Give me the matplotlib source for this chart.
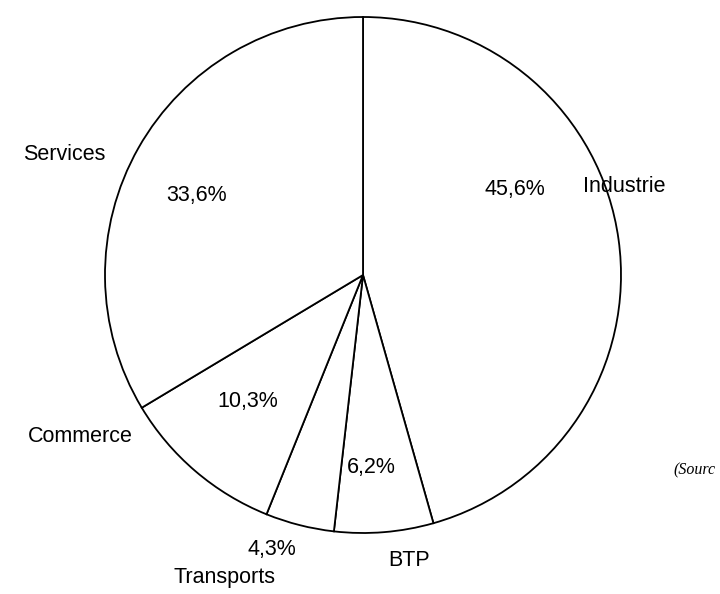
import matplotlib
matplotlib.use("Agg")
import matplotlib.pyplot as plt

categories = ["Industrie", "BTP", "Transports", "Commerce", "Services"]
values = [45.6, 6.2, 4.3, 10.3, 33.6]
pct_labels = ["45,6%", "6,2%", "4,3%", "10,3%", "33,6%"]

W, H = 720, 594
fig = plt.figure(figsize=(7.2, 5.94), dpi=100)
ax = fig.add_axes([0, 0, 1, 1])

ax.pie(values, startangle=90, counterclock=False, center=(363, H - 275), radius=258,
       wedgeprops=dict(facecolor="white", edgecolor="black", linewidth=1.3))
ax.set_xlim(0, W)
ax.set_ylim(0, H)
ax.set_aspect("equal")
ax.set_axis_off()

font = dict(family="Liberation Sans", fontsize=15.5, color="black")
cat_pos = {"Industrie": (583, 187, "left"), "BTP": (409, 560, "center"),
           "Transports": (224, 577, "center"), "Commerce": (80, 437, "center"),
           "Services": (64, 155, "center")}
pct_pos = [(515, 190), (371, 467), (272, 550), (248, 402), (197, 195)]
for c in categories:
    x, y, ha = cat_pos[c]
    ax.text(x, H - y, c, ha=ha, va="center", **font)
for (x, y), t in zip(pct_pos, pct_labels):
    ax.text(x, H - y, t, ha="center", va="center", **font)

# source note (cut at the page edge in the reference)
ax.text(716, H - 470, "(Sourc", ha="right", va="center",
        family="Liberation Serif", style="italic", fontsize=11.5)

fig.savefig("out.png", dpi=100, facecolor="white")
